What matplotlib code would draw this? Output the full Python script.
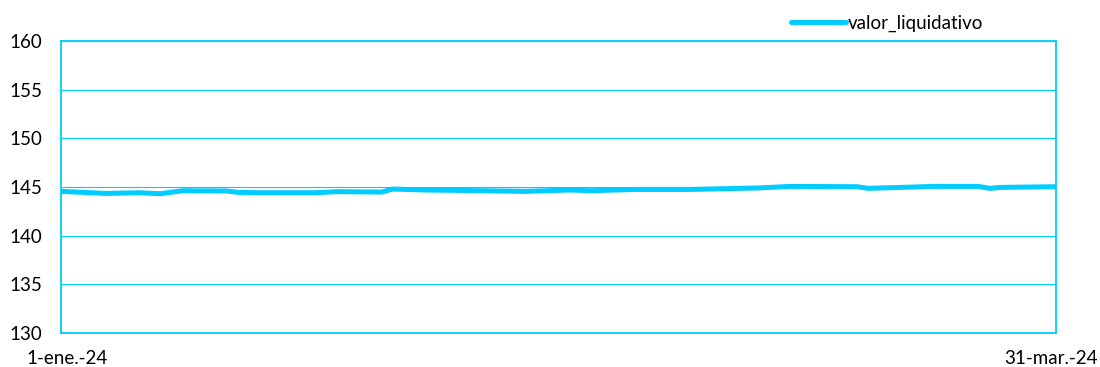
import pandas as pd
import matplotlib
matplotlib.use("Agg")
import matplotlib.pyplot as plt
import matplotlib.dates as mdates
from matplotlib.transforms import ScaledTranslation

# values
fechas = ["2024-01-01", "2024-01-03", "2024-01-05", "2024-01-08", "2024-01-10",
          "2024-01-12", "2024-01-16", "2024-01-17", "2024-01-19", "2024-01-24",
          "2024-01-26", "2024-01-30", "2024-01-31", "2024-02-03", "2024-02-08",
          "2024-02-12", "2024-02-16", "2024-02-18", "2024-02-22", "2024-02-27",
          "2024-03-04", "2024-03-07", "2024-03-13", "2024-03-14", "2024-03-20",
          "2024-03-24", "2024-03-25", "2024-03-26", "2024-03-31"]
valor_liquidativo = [144.55, 144.45, 144.34, 144.41, 144.31,
                     144.62, 144.59, 144.45, 144.41, 144.41,
                     144.52, 144.48, 144.79, 144.69, 144.62,
                     144.55, 144.69, 144.62, 144.75, 144.75,
                     144.90, 145.06, 145.03, 144.86, 145.06,
                     145.06, 144.86, 144.96, 145.03]
y_ticks = [130, 135, 140, 145, 150, 155, 160]
x_labels = ["1-ene.-24", "31-mar.-24"]

CYAN = "#00CCFF"


def main():
    plt.rcParams["font.family"] = ["Lato", "DejaVu Sans"]
    df = pd.DataFrame({"Date": pd.to_datetime(fechas), "valor_liquidativo": valor_liquidativo})

    fig = plt.figure(figsize=(11, 3.67), dpi=100)
    ax = fig.add_axes([61 / 1100, 34 / 367, 995 / 1100, 292 / 367])

    ax.plot(df["Date"], df["valor_liquidativo"], color=CYAN, linewidth=3.6,
            solid_capstyle="round", label="valor_liquidativo")

    x0, x1 = pd.Timestamp("2024-01-01"), pd.Timestamp("2024-03-31")
    ax.set_xlim(x0, x1)
    ax.set_ylim(y_ticks[0], y_ticks[-1])
    ax.set_yticks(y_ticks)
    ax.set_xticks([mdates.date2num(x0), mdates.date2num(x1)])
    ax.set_xticklabels(x_labels)

    ax.grid(axis="y", color=CYAN, linewidth=0.8)
    ax.set_axisbelow(True)
    for spine in ax.spines.values():
        spine.set_color(CYAN)
        spine.set_linewidth(1.3)
    ax.tick_params(length=0, labelsize=13.5, colors="black")
    ax.tick_params(axis="y", pad=13.5)
    ax.tick_params(axis="x", pad=12)

    # nudge the end labels inward a little, like the original
    lbls = ax.get_xticklabels()
    lbls[0].set_transform(lbls[0].get_transform() + ScaledTranslation(6 / 100, 0, fig.dpi_scale_trans))
    lbls[1].set_transform(lbls[1].get_transform() + ScaledTranslation(-5 / 100, 0, fig.dpi_scale_trans))

    ax.legend(loc="lower left", bbox_to_anchor=(721 / 995, 1.0), frameon=False,
              fontsize=13.5, handlelength=2.9, handletextpad=0.1, borderaxespad=0.1)

    plt.savefig("out.png")
    plt.close()


if __name__ == "__main__":
    main()
